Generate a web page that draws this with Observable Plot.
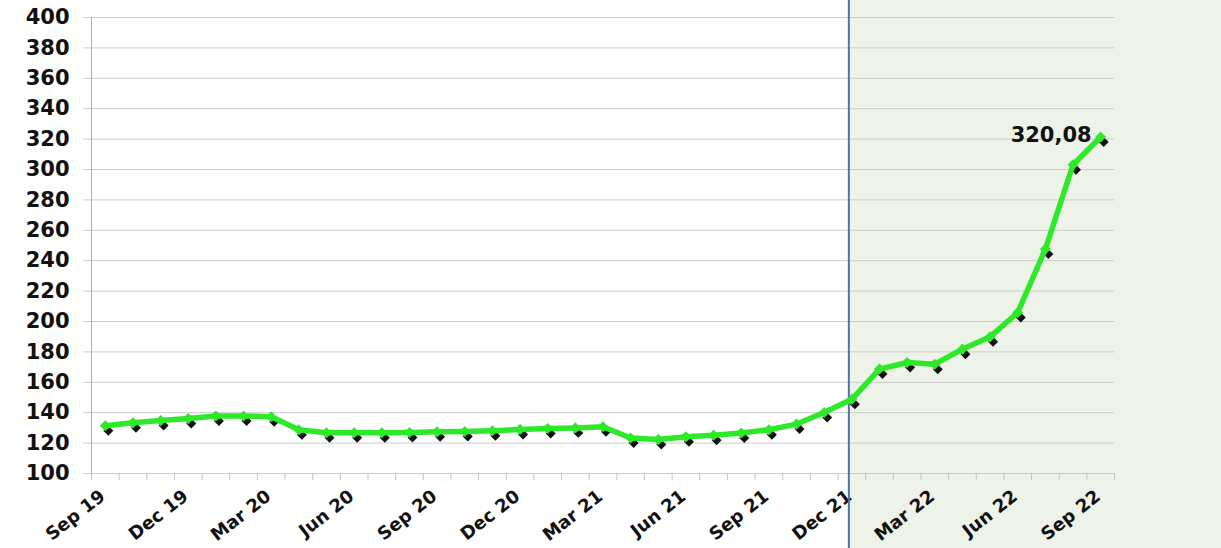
<!DOCTYPE html>
<html><head><meta charset="utf-8">
<script src="https://cdn.jsdelivr.net/npm/d3@7"></script>
<script src="https://cdn.jsdelivr.net/npm/@observablehq/plot@0.6"></script>
<style>html,body{margin:0;padding:0;background:#fff;overflow:hidden}</style>
</head><body><div id="chart"></div>
<script>
const months = ["Sep 19","Oct 19","Nov 19","Dec 19","Jan 20","Feb 20","Mar 20","Apr 20","May 20","Jun 20","Jul 20","Aug 20",
  "Sep 20","Oct 20","Nov 20","Dec 20","Jan 21","Feb 21","Mar 21","Apr 21","May 21","Jun 21","Jul 21","Aug 21",
  "Sep 21","Oct 21","Nov 21","Dec 21","Jan 22","Feb 22","Mar 22","Apr 22","May 22","Jun 22","Jul 22","Aug 22","Sep 22"];
const values = [130.1,132,133.5,134.8,136.5,136.5,136,127.5,125.5,125.5,125.5,125.7,
  126.1,126.3,126.8,127.7,128.3,128.7,129.4,122,121.1,122.8,123.9,125.3,
  127.5,131.2,138.8,147.5,167.4,171.7,170.6,180.5,188.6,204.6,246.3,301.8,320.08];
const yTicks = d3.range(100, 401, 20);
const labelEvery = 3;
const shadeFrom = "Dec 21";
const lastLabel = "320,08";

const data = months.map((m, i) => ({i, m, v: values[i]}));
const labelIdx = months.map((m, i) => i).filter(i => i % labelEvery === 0);
const boundaries = d3.range(-0.5, months.length, 1);
const shadeIdx = months.indexOf(shadeFrom);
const lastIdx = months.length - 1;

const shade = (index, scales, vals, dims) => {
  const x0 = scales.x(shadeIdx) - 2;
  const g = d3.create("svg:g");
  g.append("rect").attr("x", x0).attr("y", 0)
    .attr("width", dims.width - x0).attr("height", dims.height).attr("fill", "#edf3e9");
  return g.node();
};
const divider = (index, scales, vals, dims) => {
  const x0 = scales.x(shadeIdx) - 2.5;
  const g = d3.create("svg:g");
  g.append("line").attr("x1", x0).attr("x2", x0).attr("y1", 0).attr("y2", dims.height)
    .attr("stroke", "#4a74a3").attr("stroke-width", 2);
  return g.node();
};

const chart = Plot.plot({
  width: 1221, height: 548,
  marginLeft: 91, marginRight: 107, marginTop: 17, marginBottom: 75,
  style: {fontFamily: "'DejaVu Sans', Verdana, sans-serif", background: "transparent"},
  x: {type: "linear", domain: [-0.5, months.length - 0.5], axis: null},
  y: {domain: [100, 400], axis: null},
  marks: [
    shade,
    Plot.gridY(yTicks, {stroke: "#cccccc", strokeOpacity: 1}),
    Plot.axisY(yTicks, {tickSize: 8, tickPadding: 14, stroke: "#cccccc", fill: "#111", fontSize: 21, fontWeight: "bold", label: null}),
    Plot.axisX(boundaries, {tickSize: 7, tickFormat: () => "", stroke: "#c4c4c4", label: null}),
    Plot.ruleX([-0.5], {stroke: "#b0b0b0"}),
    Plot.text(labelIdx, {x: d => d, frameAnchor: "bottom", text: d => months[d], rotate: -38, textAnchor: "end", dx: 1, dy: 25, fontSize: 18, fontWeight: "bold", fill: "#111"}),
    divider,
    Plot.dot(data, {x: "i", y: "v", symbol: "diamond2", r: 4.5, fill: "#111", stroke: "none", dx: 3, dy: 3}),
    Plot.line(data, {x: "i", y: "v", stroke: "#2ee82a", strokeWidth: 5.5, dy: -2}),
    Plot.dot(data, {x: "i", y: "v", symbol: "diamond2", r: 5, fill: "#2ee82a", stroke: "none", dy: -2}),
    Plot.text([lastIdx], {x: d => d, y: d => values[d], text: () => lastLabel, textAnchor: "end", dx: -9, dy: -4, fontSize: 21, fontWeight: "bold", fill: "#111"})
  ]
});
document.getElementById("chart").appendChild(chart);
</script>
</body></html>
